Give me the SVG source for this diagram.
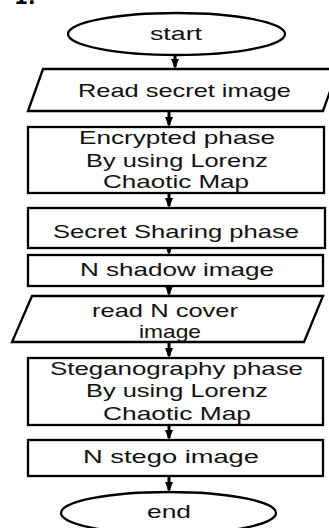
<svg xmlns="http://www.w3.org/2000/svg" width="329" height="528" viewBox="0 0 329 528">
<style>
.s{fill:#fff;stroke:#000;stroke-width:2.3}
.t{font-family:"Liberation Sans",Arial,sans-serif;font-size:18.5px;fill:#111}
.c{stroke:#000;stroke-width:3;fill:none}
</style>
<defs>
<marker id="ah" viewBox="0 0 10 8" refX="8" refY="4" markerWidth="11" markerHeight="8" markerUnits="userSpaceOnUse" orient="auto">
<path d="M0,0 L10,4 L0,8 z" fill="#000"/>
</marker>
</defs>
<rect width="329" height="528" fill="#fff"/>
<text x="14" y="4" font-family="DejaVu Sans" font-weight="bold" font-size="20" fill="#000">1.</text>
<g id="connectors">
<line class="c" x1="175" y1="55" x2="175" y2="67" marker-end="url(#ah)"/>
<line class="c" x1="169" y1="111" x2="169" y2="125" marker-end="url(#ah)"/>
<line class="c" x1="169" y1="193" x2="169" y2="206" marker-end="url(#ah)"/>
<line class="c" x1="169" y1="247" x2="169" y2="253" marker-end="url(#ah)"/>
<line class="c" x1="169" y1="286" x2="169" y2="294" marker-end="url(#ah)"/>
<line class="c" x1="169" y1="342" x2="169" y2="356" marker-end="url(#ah)"/>
<line class="c" x1="169" y1="425" x2="169" y2="438" marker-end="url(#ah)"/>
<line class="c" x1="169" y1="476" x2="169" y2="490" marker-end="url(#ah)"/>
</g>
<g id="start">
<ellipse class="s" cx="176.5" cy="34" rx="108.5" ry="21"/>
<text class="t" x="150" y="40" textLength="52" lengthAdjust="spacingAndGlyphs">start</text>
</g>
<g id="read-secret">
<polygon class="s" points="43,69 338,69 323,111 28,111"/>
<text class="t" x="78" y="97" textLength="213" lengthAdjust="spacingAndGlyphs">Read secret image</text>
</g>
<g id="encrypted">
<rect class="s" x="28" y="127" width="296" height="66"/>
<text class="t" x="79" y="144" textLength="196" lengthAdjust="spacingAndGlyphs">Encrypted phase</text>
<text class="t" x="86" y="166.5" textLength="182" lengthAdjust="spacingAndGlyphs">By using Lorenz</text>
<text class="t" x="103" y="188" textLength="146" lengthAdjust="spacingAndGlyphs">Chaotic Map</text>
</g>
<g id="sharing">
<rect class="s" x="28" y="208" width="297" height="40"/>
<text class="t" x="53" y="238" textLength="246" lengthAdjust="spacingAndGlyphs">Secret Sharing phase</text>
</g>
<g id="shadow">
<rect class="s" x="28" y="255" width="295" height="31"/>
<text class="t" x="80" y="276" textLength="194" lengthAdjust="spacingAndGlyphs">N shadow image</text>
</g>
<g id="read-cover">
<polygon class="s" points="32,296 323,296 304,342 12,342"/>
<text class="t" x="92" y="316.5" textLength="146" lengthAdjust="spacingAndGlyphs">read N cover</text>
<text class="t" x="139" y="338" textLength="62" lengthAdjust="spacingAndGlyphs">image</text>
</g>
<g id="stego-phase">
<rect class="s" x="28" y="358" width="295" height="67"/>
<text class="t" x="50" y="375" textLength="253" lengthAdjust="spacingAndGlyphs">Steganography phase</text>
<text class="t" x="86" y="397" textLength="182" lengthAdjust="spacingAndGlyphs">By using Lorenz</text>
<text class="t" x="103" y="420" textLength="148" lengthAdjust="spacingAndGlyphs">Chaotic Map</text>
</g>
<g id="stego-image">
<rect class="s" x="28" y="440" width="295" height="36"/>
<text class="t" x="83" y="463" textLength="176" lengthAdjust="spacingAndGlyphs">N stego image</text>
</g>
<g id="end">
<ellipse class="s" cx="168.5" cy="513" rx="107.5" ry="21"/>
<text class="t" x="147" y="518" textLength="44" lengthAdjust="spacingAndGlyphs">end</text>
</g>
</svg>
